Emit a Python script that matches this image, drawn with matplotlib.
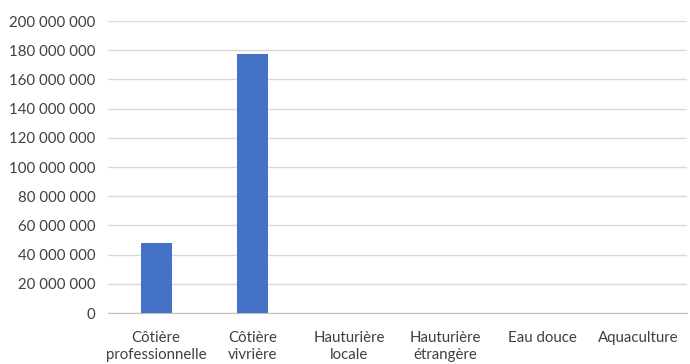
import matplotlib
matplotlib.use("Agg")
import matplotlib.pyplot as plt
from matplotlib.ticker import FuncFormatter

categories = ["Côtière\nprofessionnelle", "Côtière\nvivrière", "Hauturière\nlocale",
              "Hauturière\nétrangère", "Eau douce", "Aquaculture"]
values = [48000000, 177500000, 0, 0, 0, 0]

plt.rcParams['font.family'] = ['Lato', 'DejaVu Sans']

fig = plt.figure(figsize=(6.9, 3.64), dpi=100)
ax = fig.add_axes([0.1565, 0.14, 0.839, 0.802])

x = range(len(categories))
ax.bar(x, values, width=0.32, color="#4472C4", zorder=3)

ax.set_ylim(0, 200000000)
ax.set_yticks(range(0, 200000001, 20000000))
ax.yaxis.set_major_formatter(FuncFormatter(lambda v, p: f"{int(v):,}".replace(",", " ")))
ax.set_xlim(-0.5, len(categories) - 0.5)
ax.set_xticks(list(x))
ax.set_xticklabels(categories, linespacing=1.3)

ax.grid(axis="y", color="#d9d9d9", linewidth=1, zorder=0)
for s in ["top", "right", "left"]:
    ax.spines[s].set_visible(False)
ax.spines["bottom"].set_color("#bfbfbf")
ax.tick_params(axis="both", length=0, labelsize=10.8, colors="#404040")
ax.tick_params(axis="y", pad=9)
ax.tick_params(axis="x", pad=13)

fig.savefig("out.png", dpi=100)
